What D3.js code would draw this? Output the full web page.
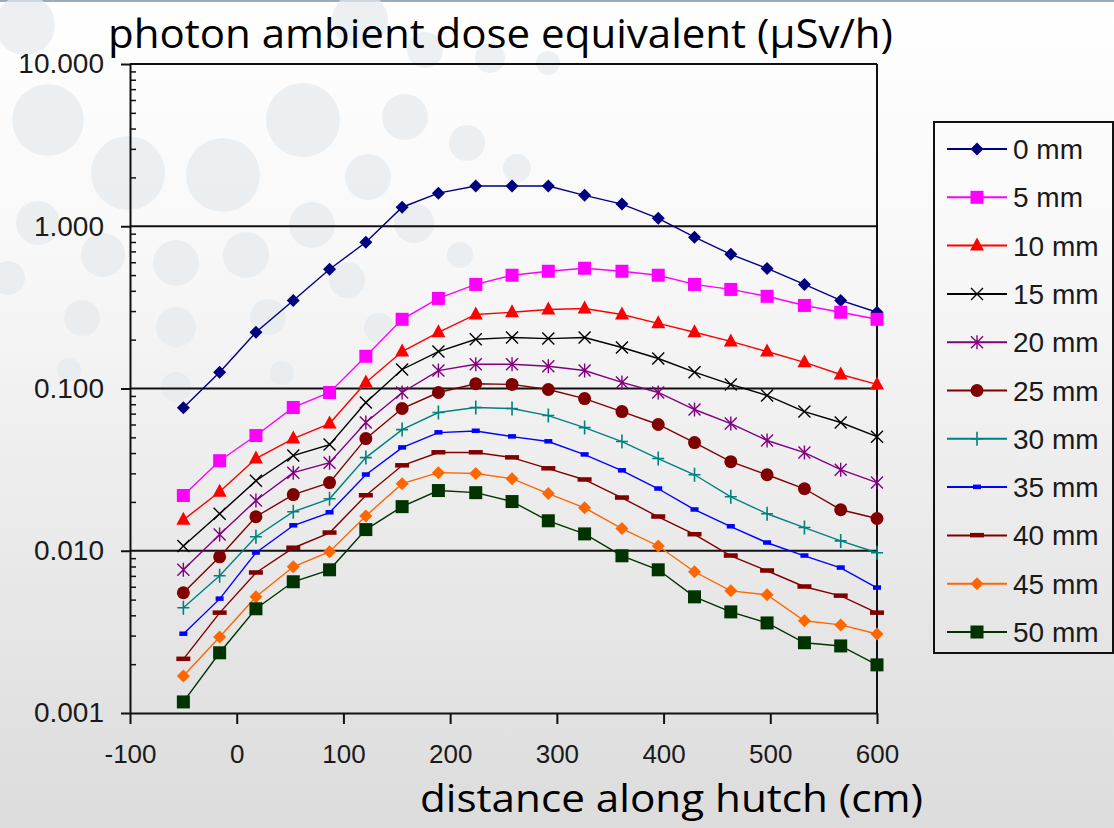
<!DOCTYPE html>
<html>
<head>
<meta charset="utf-8">
<script src="https://cdn.jsdelivr.net/npm/d3@7"></script>
<style>
    body { margin: 0; overflow: hidden; }
    svg { display: block; }
    .tick text { font-family: "Liberation Sans", Arial, sans-serif; fill: #1a1a1a; }
</style>
</head>
<body>
<svg id="chart" width="1114" height="828"></svg>
<script>
// distance along hutch (cm)
const distance = [-50, -16, 18, 53, 87, 121, 155, 189, 224, 258, 292, 326, 361, 395, 429, 463, 497, 532, 566, 600];

// dose (uSv/h) per shielding thickness
const mm0 = [0.076, 0.126, 0.222, 0.349, 0.543, 0.797, 1.31, 1.60, 1.77, 1.77, 1.77, 1.55, 1.37, 1.12, 0.856, 0.671, 0.550, 0.438, 0.349, 0.295];
const mm5 = [0.0219, 0.0359, 0.0513, 0.0764, 0.0945, 0.158, 0.267, 0.359, 0.438, 0.499, 0.528, 0.551, 0.528, 0.499, 0.438, 0.408, 0.370, 0.325, 0.295, 0.267];
const mm10 = [0.0155, 0.0231, 0.0370, 0.0491, 0.0608, 0.109, 0.169, 0.222, 0.286, 0.295, 0.307, 0.311, 0.286, 0.252, 0.222, 0.195, 0.169, 0.145, 0.122, 0.106];
const mm15 = [0.0107, 0.0169, 0.0270, 0.0386, 0.0451, 0.0820, 0.131, 0.169, 0.201, 0.206, 0.203, 0.206, 0.179, 0.153, 0.126, 0.106, 0.0906, 0.0721, 0.0617, 0.0505];
const mm20 = [0.00763, 0.0126, 0.0204, 0.0303, 0.0349, 0.0617, 0.0945, 0.129, 0.141, 0.141, 0.137, 0.129, 0.109, 0.0945, 0.0742, 0.0608, 0.0478, 0.0403, 0.0316, 0.0263];
const mm25 = [0.00551, 0.00918, 0.0162, 0.0222, 0.0263, 0.0491, 0.0753, 0.0945, 0.107, 0.106, 0.0986, 0.0867, 0.0721, 0.0600, 0.0464, 0.0354, 0.0294, 0.0241, 0.0179, 0.0158];
const mm30 = [0.00445, 0.00701, 0.0122, 0.0174, 0.0209, 0.0375, 0.0558, 0.0711, 0.0764, 0.0753, 0.0681, 0.0574, 0.0471, 0.0370, 0.0294, 0.0215, 0.0169, 0.0139, 0.0115, 0.00972];
const mm35 = [0.00307, 0.00505, 0.00972, 0.0143, 0.0172, 0.0294, 0.0432, 0.0535, 0.0547, 0.0505, 0.0471, 0.0391, 0.0312, 0.0241, 0.0179, 0.0141, 0.0112, 0.00931, 0.00785, 0.00591];
const mm40 = [0.00215, 0.00414, 0.00732, 0.0104, 0.0129, 0.0219, 0.0335, 0.0403, 0.0403, 0.0375, 0.0321, 0.0274, 0.0212, 0.0162, 0.0126, 0.00931, 0.00753, 0.00600, 0.00527, 0.00414];
const mm45 = [0.00169, 0.00294, 0.00520, 0.00797, 0.00986, 0.0164, 0.0259, 0.0303, 0.0299, 0.0278, 0.0225, 0.0184, 0.0137, 0.0107, 0.00742, 0.00566, 0.00535, 0.00370, 0.00349, 0.00307];
const mm50 = [0.00117, 0.00235, 0.00439, 0.00644, 0.00763, 0.0135, 0.0187, 0.0235, 0.0228, 0.0201, 0.0153, 0.0127, 0.00931, 0.00763, 0.00520, 0.00420, 0.00359, 0.00271, 0.00259, 0.00198];

const seriesNames = ['0 mm', '5 mm', '10 mm', '15 mm', '20 mm', '25 mm', '30 mm', '35 mm', '40 mm', '45 mm', '50 mm'];
const seriesValues = [mm0, mm5, mm10, mm15, mm20, mm25, mm30, mm35, mm40, mm45, mm50];

const yTicks = [0.001, 0.01, 0.1, 1, 10];
const xTicks = [-100, 0, 100, 200, 300, 400, 500, 600];

// styling
const colors = ['#000080', '#ff00ff', '#ff0000', '#000000', '#800080', '#800000', '#008080', '#0000ff', '#800000', '#ff6600', '#003300'];
const markers = ['diamond', 'square', 'triangle', 'x', 'star', 'circle', 'plus', 'dash', 'longdash', 'diamond', 'square'];

// slide decoration
const bubbles = [[48, 120, 36], [128, 173, 37], [223, 175, 37], [303, 120, 37], [405, 117, 23], [368, 177, 23],
    [467, 143, 18], [517, 168, 14], [38, 223, 22], [103, 255, 22], [176, 263, 23], [246, 255, 23], [312, 225, 23],
    [347, 280, 18], [460, 255, 13], [414, 223, 20], [8, 278, 17], [82, 318, 18], [176, 327, 20], [268, 317, 18],
    [379, 328, 15], [69, 370, 12], [176, 387, 15], [282, 373, 12], [360, 20, 28], [425, 50, 18], [490, 58, 15],
    [548, 63, 12], [25, 25, 30]];

const svg = d3.select('#chart');
const margin = { top: 64, right: 237, bottom: 115, left: 130 };
const w = 1114 - margin.left - margin.right;
const h = 828 - margin.top - margin.bottom;

const defs = svg.append('defs');
const grad = defs.append('linearGradient').attr('id', 'bg').attr('x1', 0).attr('y1', 0).attr('x2', 0).attr('y2', 1);
grad.append('stop').attr('offset', '0%').attr('stop-color', '#ffffff');
grad.append('stop').attr('offset', '30%').attr('stop-color', '#f8f8f8');
grad.append('stop').attr('offset', '100%').attr('stop-color', '#dcdcdc');

svg.append('rect').attr('width', 1114).attr('height', 828).attr('fill', 'url(#bg)');
svg.append('rect').attr('width', 1114).attr('height', 2).attr('fill', '#9aabba');

svg.append('g').selectAll('circle').data(bubbles).enter().append('circle')
    .attr('cx', d => d[0]).attr('cy', d => d[1]).attr('r', d => d[2])
    .attr('fill', '#e6e9ee').attr('opacity', 0.7);

const x = d3.scaleLinear().domain([-100, 600]).range([0, w]);
const y = d3.scaleLog().domain([0.001, 10]).range([h, 0]);

const g = svg.append('g').attr('transform', `translate(${margin.left},${margin.top})`);

// grid lines at decades
g.append('g').selectAll('line').data(yTicks.slice(1, -1)).enter().append('line')
    .attr('x1', 0).attr('x2', w).attr('y1', d => y(d)).attr('y2', d => y(d))
    .attr('stroke', '#111').attr('stroke-width', 2);

// plot border top/right
g.append('line').attr('x1', 0).attr('x2', w).attr('y1', 0).attr('y2', 0).attr('stroke', '#111').attr('stroke-width', 2);
g.append('line').attr('x1', w).attr('x2', w).attr('y1', 0).attr('y2', h).attr('stroke', '#111').attr('stroke-width', 2);

// minor ticks inside y axis
const minor = [];
yTicks.slice(0, -1).forEach(t => { for (let k = 2; k <= 9; k++) minor.push(t * k); });
g.append('g').call(d3.axisRight(y).tickValues(minor).tickSize(6).tickFormat(''))
    .call(a => a.select('.domain').remove())
    .selectAll('line').attr('stroke', '#111').attr('stroke-width', 1.5);

const yAxis = g.append('g').call(d3.axisLeft(y).tickValues(yTicks).tickFormat(d3.format('.3f')).tickSize(9).tickSizeOuter(0).tickPadding(17));
yAxis.selectAll('text').style('font-size', '28px');

const xAxis = g.append('g').attr('transform', `translate(0,${h})`)
    .call(d3.axisBottom(x).tickValues(xTicks).tickFormat(d => String(d)).tickSize(11).tickSizeOuter(0).tickPadding(21));
xAxis.selectAll('text').style('font-size', '26px');

[yAxis, xAxis].forEach(a => {
    a.select('.domain').attr('stroke', '#111').attr('stroke-width', 2);
    a.selectAll('.tick line').attr('stroke', '#111').attr('stroke-width', 2);
});

function marker(sel, type, color) {
    const s = 6.5;
    if (type === 'diamond') {
        sel.append('path').attr('d', `M0,${-s}L${s},0L0,${s}L${-s},0Z`).attr('fill', color);
    } else if (type === 'square') {
        sel.append('rect').attr('x', -s).attr('y', -s).attr('width', 2 * s).attr('height', 2 * s).attr('fill', color);
    } else if (type === 'triangle') {
        sel.append('path').attr('d', 'M0,-8L7,5L-7,5Z').attr('fill', color);
    } else if (type === 'circle') {
        sel.append('circle').attr('r', 6.5).attr('fill', color);
    } else if (type === 'x') {
        sel.append('path').attr('d', 'M-6,-6L6,6M-6,6L6,-6').attr('stroke', color).attr('stroke-width', 1.4).attr('fill', 'none');
    } else if (type === 'star') {
        sel.append('path').attr('d', 'M-6,-6L6,6M-6,6L6,-6M0,-7V7').attr('stroke', color).attr('stroke-width', 1.4).attr('fill', 'none');
    } else if (type === 'plus') {
        sel.append('path').attr('d', 'M-6,0H6M0,-7V7').attr('stroke', color).attr('stroke-width', 1.6).attr('fill', 'none');
    } else if (type === 'dash') {
        sel.append('rect').attr('x', -4).attr('y', -2.5).attr('width', 8).attr('height', 4.5).attr('fill', color);
    } else if (type === 'longdash') {
        sel.append('rect').attr('x', -7).attr('y', -2.5).attr('width', 14).attr('height', 4.5).attr('fill', color);
    }
}

const line = d3.line().x((d, i) => x(distance[i])).y(d => y(d));

seriesValues.forEach((vals, si) => {
    const sg = g.append('g');
    sg.append('path').attr('d', line(vals)).attr('fill', 'none')
        .attr('stroke', colors[si]).attr('stroke-width', 1.4);
    sg.selectAll('g').data(vals).enter().append('g')
        .attr('transform', (d, i) => `translate(${x(distance[i])},${y(d)})`)
        .each(function () { marker(d3.select(this), markers[si], colors[si]); });
});

// legend
const legendTop = 122;
const legendLeft = 934;
svg.append('rect').attr('x', legendLeft).attr('y', legendTop).attr('width', 179).attr('height', 531)
    .attr('fill', 'none').attr('stroke', '#111').attr('stroke-width', 2);

const ly = d3.scaleLinear().domain([0, seriesNames.length - 1]).range([legendTop + 27, legendTop + 510]);
const items = svg.append('g').selectAll('g').data(seriesNames).enter().append('g')
    .attr('transform', (d, i) => `translate(${legendLeft},${ly(i)})`);
items.append('line').attr('x1', 13).attr('x2', 73).attr('stroke', (d, i) => colors[i]).attr('stroke-width', 2);
items.each(function (d, i) {
    const m = d3.select(this).append('g').attr('transform', 'translate(43,0)');
    marker(m, markers[i], colors[i]);
});
items.append('text').attr('x', 79).attr('dy', '0.36em').text(d => d)
    .style('font-family', '"Liberation Sans", Arial, sans-serif').style('font-size', '28px').attr('fill', '#1a1a1a');

// titles
svg.append('text').attr('x', 108).attr('y', 48).text('photon ambient dose equivalent (μSv/h)')
    .attr('textLength', 785).attr('lengthAdjust', 'spacingAndGlyphs')
    .style('font-family', '"Comic Sans MS", "Open Sans", sans-serif').style('font-size', '40px').attr('fill', '#000');

svg.append('text').attr('x', 420).attr('y', 812).text('distance along hutch (cm)')
    .attr('textLength', 503).attr('lengthAdjust', 'spacingAndGlyphs')
    .style('font-family', '"Comic Sans MS", "Open Sans", sans-serif').style('font-size', '38px').attr('fill', '#000');
</script>
</body>
</html>
